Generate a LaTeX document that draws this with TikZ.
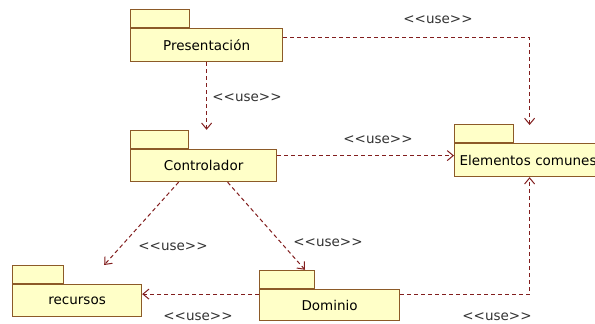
\documentclass[tikz,border=0pt]{standalone}
\usepackage{fontspec}
\setmainfont{DejaVu Sans}
\usetikzlibrary{arrows.meta,calc}
\definecolor{pkgfill}{RGB}{255,255,200}
\definecolor{pkgline}{RGB}{140,90,40}
\definecolor{uselc}{RGB}{130,30,30}
\newcommand{\usetxt}{<{}<use>{}>}
\begin{document}
\begin{tikzpicture}[x=1pt,y=-1pt,
  pkg/.style={draw=pkgline,fill=pkgfill,line width=1.2pt,anchor=north west,inner sep=0pt,font=\fontsize{13.5}{16}\selectfont},
  pkgtab/.style={draw=pkgline,fill=pkgfill,line width=1.2pt,anchor=south west,inner sep=0pt,minimum height=18pt},
  usearrow/.style={draw=uselc,line width=1pt,dash pattern=on 4pt off 3pt,-{Straight Barb[length=6pt,width=10pt,line width=1pt]}},
  uselabel/.style={font=\fontsize{13.5}{16}\selectfont,text=black!80,inner sep=0pt}]
\useasboundingbox (0,0) rectangle (595,324);
\fill[white] (0,0) rectangle (595,324);

% packages
\node[pkg,minimum width=152pt,minimum height=33pt] (pres) at (130,28) {Presentación};
\node[pkgtab,minimum width=59pt] (prestab) at (pres.north west) {};
\node[pkg,minimum width=146pt,minimum height=32pt] (ctrl) at (130,149) {Controlador};
\node[pkgtab,minimum width=58pt] (ctrltab) at (ctrl.north west) {};
\node[pkg,minimum width=150pt,minimum height=33pt,text width=140pt,align=left,inner xsep=5pt] (elem) at (454,143) {Elementos comunes};
\node[pkgtab,minimum width=59pt] (elemtab) at (elem.north west) {};
\node[pkg,minimum width=129pt,minimum height=32pt] (rec) at (12,284) {recursos};
\node[pkgtab,minimum width=51pt] (rectab) at (rec.north west) {};
\node[pkg,minimum width=140pt,minimum height=31pt] (dom) at (259,289) {Dominio};
\node[pkgtab,minimum width=55pt] (domtab) at (dom.north west) {};

% dependencies
\draw[usearrow] ([yshift=7.5pt]pres.east) -| ([yshift=18pt]elem.north);
\draw[usearrow] (pres.south) -- (pres.south |- ctrltab.north);
\draw[usearrow] ([yshift=10pt]ctrl.east) -- ([yshift=10pt]ctrl.east -| elem.west);
\draw[usearrow] ($(ctrl.south)+(-25,0)$) -- ($(rec.north east)+(-38,-19)$);
\draw[usearrow] ($(ctrl.south)+(24,0)$) -- (domtab.north -| 305,0);
\draw[usearrow] ([yshift=11pt]dom.west) -- ([yshift=11pt]dom.west -| rec.east);
\draw[usearrow] ([yshift=11pt]dom.east) -| (elem.south);

% labels
\node[uselabel] (l1) at (438,20) {\usetxt};
\node[uselabel] (l2) at (247,98) {\usetxt};
\node[uselabel] (l3) at (378,140) {\usetxt};
\node[uselabel] (l4) at (173,247) {\usetxt};
\node[uselabel] (l5) at (328,243) {\usetxt};
\node[uselabel] (l6) at (198,317) {\usetxt};
\node[uselabel] (l7) at (497,317) {\usetxt};
\end{tikzpicture}
\end{document}
